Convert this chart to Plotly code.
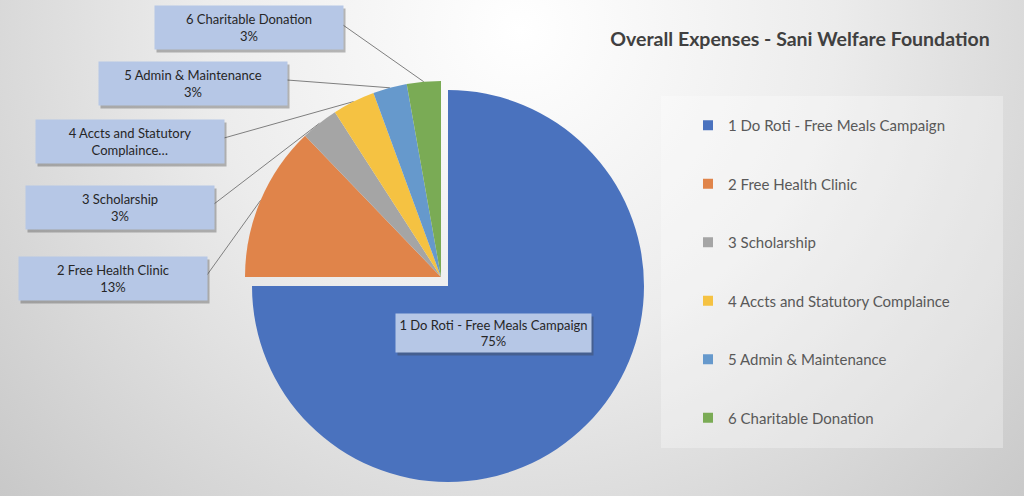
import base64
import math

import plotly.graph_objects as go

# ---- data ----
labels = ['1 Do Roti - Free Meals Campaign', '2 Free Health Clinic', '3 Scholarship',
          '4 Accts and Statutory Complaince', '5 Admin & Maintenance', '6 Charitable Donation']
values = [75.0, 12.8, 3.1, 3.5, 2.8, 2.8]
callout_names = ['1 Do Roti - Free Meals Campaign', '2 Free Health Clinic', '3 Scholarship',
                 '4 Accts and Statutory<br>Complaince…', '5 Admin & Maintenance', '6 Charitable Donation']
colors = ['#4a72be', '#e0844a', '#a5a5a5', '#f5c242', '#6699cc', '#7aab55']
title = 'Overall Expenses - Sani Welfare Foundation'

W, H = 1024, 496
FONT = 'Lato'

# pie geometry in pixels
CX, CY, R = 448, 286, 196
SHIFT = (-7, -9)          # the small slices are pulled out together

# callout boxes: centre x, centre y, width, height (pixels)
boxes = [(493, 333, 195, 38), (113, 278, 188, 43), (120, 207, 188, 43),
         (130, 141, 188, 43), (193, 83, 188, 43), (249, 28, 188, 43)]


def px(x):
    return x / W


def py(y):
    return 1 - y / H


def domain(cx, cy):
    return dict(x=[px(cx - R), px(cx + R)], y=[py(cy + R), py(cy - R)])


fig = go.Figure()

# big slice
fig.add_trace(go.Pie(
    labels=labels, values=values, sort=False, direction='clockwise', rotation=0,
    marker=dict(colors=[colors[0]] + ['rgba(0,0,0,0)'] * 5, line=dict(width=0)),
    textinfo='none', hoverinfo='label+percent', showlegend=False,
    domain=domain(CX, CY),
))
# small slices, exploded as a group
fig.add_trace(go.Pie(
    labels=labels, values=values, sort=False, direction='clockwise', rotation=0,
    marker=dict(colors=['rgba(0,0,0,0)'] + colors[1:], line=dict(width=0)),
    textinfo='none', hoverinfo='label+percent', showlegend=False,
    domain=domain(CX + SHIFT[0], CY + SHIFT[1]),
))

# legend entries
for i, (lab, col) in enumerate(zip(labels, colors)):
    fig.add_trace(go.Scatter(
        x=[None], y=[None], mode='markers', name=lab, legendgroup=str(i),
        marker=dict(symbol='square', size=10, color=col),
    ))

# callouts and leader lines
total = sum(values)
shapes = []
annotations = []
start = 0.0
for i, v in enumerate(values):
    mid = start + v / 2
    start += v
    pct = round(100 * v / total)
    bx, by, bw, bh = boxes[i]
    text = f'{callout_names[i]}<br>{pct}%' if '<br>' not in callout_names[i] else callout_names[i]
    # shadow then box
    annotations.append(dict(
        x=px(bx), y=py(by), xref='paper', yref='paper', showarrow=False,
        text=' ', width=bw, height=bh, borderpad=0, bgcolor='rgba(60,60,60,0.35)',
        xshift=2, yshift=-3, xanchor='center', yanchor='middle',
    ))
    annotations.append(dict(
        x=px(bx), y=py(by), xref='paper', yref='paper', showarrow=False,
        text=text, width=bw, height=bh, borderpad=0, bgcolor='#b6c7e6',
        font=dict(family=FONT, size=13, color='#262626'), align='center',
        xanchor='center', yanchor='middle',
    ))
    if i > 0:
        ang = math.radians(90 - 360 * mid / total)
        ex = CX + SHIFT[0] + R * math.cos(ang)
        ey = CY + SHIFT[1] - R * math.sin(ang)
        shapes.append(dict(
            type='line', xref='paper', yref='paper',
            x0=px(bx + bw / 2), y0=py(by - 3), x1=px(ex), y1=py(ey),
            line=dict(color='#7f7f7f', width=1), layer='below',
        ))

# legend panel
shapes.append(dict(type='rect', xref='paper', yref='paper',
                   x0=px(661), x1=px(1003), y0=py(448), y1=py(96),
                   fillcolor='rgba(255,255,255,0.3)', line=dict(width=0), layer='below'))

svg = f'''<svg xmlns="http://www.w3.org/2000/svg" width="{W}" height="{H}">
<defs><radialGradient id="g" gradientUnits="userSpaceOnUse" cx="520" cy="30" r="700">
<stop offset="0" stop-color="#ffffff"/><stop offset="0.45" stop-color="#ececec"/>
<stop offset="1" stop-color="#c8c8c8"/></radialGradient></defs>
<rect width="{W}" height="{H}" fill="url(#g)"/></svg>'''
bg = 'data:image/svg+xml;base64,' + base64.b64encode(svg.encode()).decode()

fig.update_layout(
    width=W, height=H,
    margin=dict(l=0, r=0, t=0, b=0),
    paper_bgcolor='#dcdcdc', plot_bgcolor='rgba(0,0,0,0)',
    title=dict(text=f'<b>{title}</b>', x=px(800), xanchor='center', y=py(39), yanchor='middle',
               font=dict(family=FONT, size=19.5, color='#404040')),
    xaxis=dict(visible=False), yaxis=dict(visible=False),
    legend=dict(x=px(688), y=py(109), xanchor='left', yanchor='top',
                bgcolor='rgba(0,0,0,0)', font=dict(family=FONT, size=15, color='#595959'),
                traceorder='grouped', tracegroupgap=36, itemclick=False, itemdoubleclick=False),
    shapes=shapes,
    annotations=annotations,
    images=[dict(source=bg, xref='paper', yref='paper', x=0, y=1, sizex=1, sizey=1,
                 sizing='stretch', layer='below', xanchor='left', yanchor='top')],
)

fig.write_html('out.html', config={'displayModeBar': False},
               post_script="document.body.style.margin='0';")
